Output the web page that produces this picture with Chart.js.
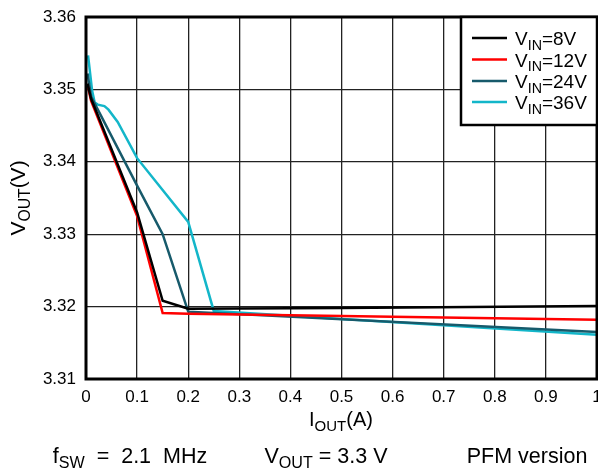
<!DOCTYPE html>
<html>
<head>
<meta charset="utf-8">
<script src="https://cdn.jsdelivr.net/npm/chart.js@4.4.1/dist/chart.umd.min.js"></script>
<style>
  html, body { margin: 0; padding: 0; background: #fff; }
  #wrap { width: 598px; height: 470px; }
</style>
</head>
<body>
<div id="wrap"><canvas id="c"></canvas></div>
<script>
// data (IOUT in A, VOUT in V)
const xTicks = [0, 0.1, 0.2, 0.3, 0.4, 0.5, 0.6, 0.7, 0.8, 0.9, 1];
const yTicks = [3.31, 3.32, 3.33, 3.34, 3.35, 3.36];

const vin8x  = [0.003, 0.01, 0.1, 0.15, 0.2, 0.5, 1.0];
const vin8y  = [3.3508, 3.3487, 3.3330, 3.3208, 3.3197, 3.3198, 3.3201];

const vin12x = [0.003, 0.01, 0.1, 0.15, 0.2, 1.0];
const vin12y = [3.3506, 3.3484, 3.3325, 3.3191, 3.3190, 3.3182];

const vin24x = [0.003, 0.01, 0.1, 0.15, 0.2, 1.0];
const vin24y = [3.3522, 3.3490, 3.3367, 3.3300, 3.3193, 3.3165];

const vin36x = [0.004, 0.012, 0.017, 0.023, 0.036, 0.044, 0.062, 0.1, 0.2, 0.25, 1.0];
const vin36y = [3.3547, 3.3498, 3.3482, 3.3479, 3.3477, 3.3472, 3.3455, 3.3405, 3.3317, 3.3194, 3.3161];

const seriesNames = ['8V', '12V', '24V', '36V'];
const seriesColors = ['#000000', '#ff0000', '#175a6b', '#13b6c9'];

const FONT = '"Liberation Sans", Arial, Helvetica, sans-serif';

function pts(xs, ys) { return xs.map((x, i) => ({x, y: ys[i]})); }

const allX = [vin8x, vin12x, vin24x, vin36x];
const allY = [vin8y, vin12y, vin24y, vin36y];

const datasets = seriesNames.map((n, i) => ({
  label: 'VIN=' + n,
  data: pts(allX[i], allY[i]),
  borderColor: seriesColors[i],
  backgroundColor: seriesColors[i],
  borderWidth: 2.5,
  pointRadius: 0,
  tension: 0,
  fill: false
}));

// draws "main" + subscript + rest, returns width
function subText(ctx, x, y, main, sub, rest, size, align) {
  const ss = size * 0.75;
  ctx.font = size + 'px ' + FONT;
  const w1 = ctx.measureText(main).width;
  ctx.font = ss + 'px ' + FONT;
  const w2 = ctx.measureText(sub).width;
  ctx.font = size + 'px ' + FONT;
  const w3 = ctx.measureText(rest).width;
  const total = w1 + w2 + w3;
  let x0 = x;
  if (align === 'center') x0 = x - total / 2;
  else if (align === 'right') x0 = x - total;
  ctx.textAlign = 'left';
  ctx.textBaseline = 'alphabetic';
  ctx.fillStyle = '#000';
  ctx.font = size + 'px ' + FONT;
  ctx.fillText(main, x0, y);
  ctx.font = ss + 'px ' + FONT;
  ctx.fillText(sub, x0 + w1, y + size * 0.25);
  ctx.font = size + 'px ' + FONT;
  ctx.fillText(rest, x0 + w1 + w2, y);
  return total;
}

const decor = {
  id: 'decor',
  afterDraw(chart) {
    const ctx = chart.ctx;
    const a = chart.chartArea;
    ctx.save();
    // frame
    ctx.strokeStyle = '#000';
    ctx.lineWidth = 3;
    ctx.strokeRect(a.left, a.top, a.right - a.left, a.bottom - a.top);

    // legend box
    const lx = 461, ly = 17, lw = a.right - 461, lh = 108;
    ctx.fillStyle = '#fff';
    ctx.fillRect(lx, ly, lw, lh);
    ctx.strokeStyle = '#000';
    ctx.lineWidth = 2.5;
    ctx.strokeRect(lx, ly, lw, lh);
    const rows = [38, 59.5, 81, 102];
    seriesNames.forEach((n, i) => {
      ctx.strokeStyle = seriesColors[i];
      ctx.lineWidth = 2.5;
      ctx.beginPath();
      ctx.moveTo(472, rows[i]);
      ctx.lineTo(507, rows[i]);
      ctx.stroke();
      subText(ctx, 515, rows[i] + 7, 'V', 'IN', '=' + n, 19, 'left');
    });

    // axis titles
    subText(ctx, 341, 426, 'I', 'OUT', '(A)', 20, 'center');
    ctx.save();
    ctx.translate(25, 198);
    ctx.rotate(-Math.PI / 2);
    subText(ctx, 0, 0, 'V', 'OUT', '(V)', 21, 'center');
    ctx.restore();

    // footer notes
    subText(ctx, 130, 463, 'f', 'SW', '  =  2.1  MHz', 21.5, 'center');
    subText(ctx, 326, 463, 'V', 'OUT', ' = 3.3 V', 21.5, 'center');
    ctx.font = '21.5px ' + FONT;
    ctx.textAlign = 'center';
    ctx.fillText('PFM version', 527, 463);
    ctx.restore();
  }
};

new Chart(document.getElementById('c'), {
  type: 'line',
  data: { datasets },
  options: {
    responsive: true,
    maintainAspectRatio: false,
    animation: false,
    layout: { padding: { left: 0, top: 17, right: 1, bottom: 0 } },
    plugins: {
      legend: { display: false },
      tooltip: { enabled: false }
    },
    scales: {
      x: {
        type: 'linear',
        min: 0, max: 1,
        afterBuildTicks: s => { s.ticks = xTicks.map(v => ({value: v})); },
        afterFit: s => { s.height = 91; s.paddingLeft = 0; s.paddingRight = 0; },
        ticks: {
          color: '#000',
          font: { family: FONT, size: 17 },
          padding: 8,
          maxRotation: 0,
          callback: v => String(v)
        },
        grid: { color: '#222', lineWidth: 1.3, drawTicks: false },
        border: { display: false }
      },
      y: {
        type: 'linear',
        min: 3.31, max: 3.36,
        afterBuildTicks: s => { s.ticks = yTicks.map(v => ({value: v})); },
        afterFit: s => { s.width = 86; s.paddingTop = 0; s.paddingBottom = 0; },
        ticks: {
          color: '#000',
          font: { family: FONT, size: 17 },
          padding: 10,
          callback: v => v.toFixed(2)
        },
        grid: { color: '#222', lineWidth: 1.3, drawTicks: false },
        border: { display: false }
      }
    }
  },
  plugins: [decor]
});
</script>
</body>
</html>
